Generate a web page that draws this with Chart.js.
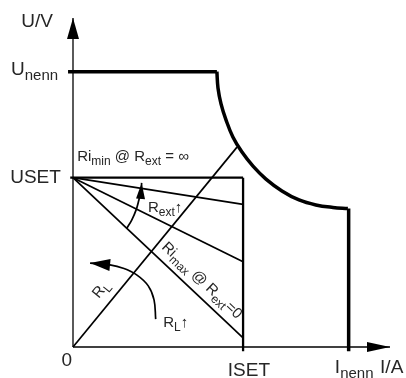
<!DOCTYPE html>
<html>
<head>
<meta charset="utf-8">
<script src="https://cdn.jsdelivr.net/npm/chart.js@4.4.1/dist/chart.umd.min.js"></script>
<style>
html, body { margin: 0; padding: 0; background: #fff; }
</style>
</head>
<body>
<canvas id="myChart" width="406" height="378"></canvas>
<script>
// axis ranges (I in A, U in V)
var I_MAX = 11.5, U_MAX = 11.95;
var U_NENN = 10, U_SET = 6.15;
var I_SET = 6.17, I_NENN = 10;

// power limit curve
var curveI = [5.22, 5.26, 5.37, 5.55, 5.80, 6.13, 6.53, 7.00, 7.58, 8.20, 8.81, 9.43, 9.97];
var curveU = [10, 9.41, 8.83, 8.25, 7.63, 7.08, 6.57, 6.10, 5.67, 5.34, 5.16, 5.07, 5.03];

// Ri lines from USET down to ISET
var riEndU = [5.18, 3.10, 0.33];

// RL load line, ends on the curve
var rlEndI = 5.95, rlEndU = 7.26;

// curved arrows
var rextArcI = [1.95, 2.13, 2.29, 2.39, 2.47, 2.49];
var rextArcU = [4.31, 4.61, 4.98, 5.34, 5.67, 5.96];
var rlArcI = [3.00, 2.94, 2.73, 2.31, 1.82, 1.34, 0.62];
var rlArcU = [1.01, 1.71, 2.22, 2.62, 2.86, 2.98, 3.05];

var FONT = '"Liberation Sans", Arial, sans-serif';

function pts(xs, ys) {
    var out = [];
    for (var i = 0; i < xs.length; i++) out.push({x: xs[i], y: ys[i]});
    return out;
}

function line(data, width, more) {
    var ds = {
        data: data,
        showLine: true,
        borderColor: '#000',
        backgroundColor: '#000',
        borderWidth: width,
        pointRadius: 0,
        tension: 0,
        clip: false
    };
    for (var k in more) ds[k] = more[k];
    return ds;
}

var datasets = [
    // axes
    line([{x: 0, y: 0}, {x: 0, y: U_MAX}], 1.3, {arrow: [21, 12]}),
    line([{x: 0, y: 0}, {x: I_MAX, y: 0}], 1.3, {arrow: [23, 10]}),
    // Unenn limit, curve, Inenn limit
    line([{x: -0.18, y: U_NENN}, {x: curveI[0], y: U_NENN}], 3.5, {borderCapStyle: 'butt'}),
    line(pts(curveI, curveU), 3.5, {tension: 0.4}),
    line([{x: I_NENN, y: curveU[curveU.length - 1]}, {x: I_NENN, y: -0.15}], 3.5),
    // USET / ISET box
    line([{x: -0.1, y: U_SET}, {x: I_SET, y: U_SET}], 2.3),
    line([{x: I_SET, y: U_SET}, {x: I_SET, y: -0.15}], 2.3),
    // RL line
    line([{x: 0, y: 0}, {x: rlEndI, y: rlEndU}], 1.7),
    // curved arrows
    line(pts(rextArcI, rextArcU), 1.7, {tension: 0.4, arrow: [16, 9]}),
    line(pts(rlArcI, rlArcU), 1.7, {tension: 0.4, arrow: [20, 12]})
];
riEndU.forEach(function (u) {
    datasets.push(line([{x: 0, y: U_SET}, {x: I_SET, y: u}], 1.7));
});

// text labels: parts are [text, isSubscript]
var labels = [
    {parts: [['U/V', 0]], x: -0.73, y: 11.62, align: 'right', size: 19},
    {parts: [['U', 0], ['nenn', 1]], x: -0.54, y: 9.88, align: 'right', size: 19},
    {parts: [['USET', 0]], x: -0.44, y: 5.97, align: 'right', size: 19},
    {parts: [['0', 0]], x: -0.23, y: -0.69, align: 'center', size: 19},
    {parts: [['ISET', 0]], x: 6.38, y: -1.05, align: 'center', size: 19},
    {parts: [['I', 0], ['nenn', 1]], x: 9.50, y: -0.94, align: 'left', size: 19},
    {parts: [['I/A', 0]], x: 11.14, y: -0.94, align: 'left', size: 19},
    {parts: [['Ri', 0], ['min', 1], [' @ R', 0], ['ext', 1], [' = \u221e', 0]], x: 0.15, y: 6.74, align: 'left', size: 15},
    {parts: [['R', 0], ['ext', 1], ['\u2191', 0]], x: 2.72, y: 4.91, align: 'left', size: 15},
    {parts: [['R', 0], ['L', 1], ['\u2191', 0]], x: 3.27, y: 0.72, align: 'left', size: 15},
    {parts: [['R', 0], ['L', 1]], x: 0.93, y: 1.74, align: 'left', size: 15,
        along: [0, 0, rlEndI, rlEndU]},
    {parts: [['Ri', 0], ['max', 1], [' @ R', 0], ['ext', 1], ['=0', 0]], x: 3.19, y: 3.60, align: 'left', size: 15,
        along: [0, U_SET, I_SET, riEndU[2]]}
];

function drawRich(ctx, parts, align, size) {
    var sub = Math.round(size * 0.78);
    var widths = parts.map(function (p) {
        ctx.font = (p[1] ? sub : size) + 'px ' + FONT;
        return ctx.measureText(p[0]).width;
    });
    var total = widths.reduce(function (a, b) { return a + b; }, 0);
    var x = align === 'right' ? -total : align === 'center' ? -total / 2 : 0;
    parts.forEach(function (p, i) {
        ctx.font = (p[1] ? sub : size) + 'px ' + FONT;
        ctx.fillText(p[0], x, p[1] ? size * 0.27 : 0);
        x += widths[i];
    });
}

var extras = {
    id: 'extras',
    afterDatasetsDraw: function (chart) {
        var ctx = chart.ctx;
        var xs = chart.scales.x, ys = chart.scales.y;
        ctx.save();
        ctx.fillStyle = '#000';
        chart.data.datasets.forEach(function (ds, i) {
            if (!ds.arrow) return;
            var d = ds.data, n = d.length;
            var x0 = xs.getPixelForValue(d[n - 2].x), y0 = ys.getPixelForValue(d[n - 2].y);
            var x1 = xs.getPixelForValue(d[n - 1].x), y1 = ys.getPixelForValue(d[n - 1].y);
            var a = Math.atan2(y1 - y0, x1 - x0);
            ctx.save();
            ctx.translate(x1, y1);
            ctx.rotate(a);
            ctx.beginPath();
            ctx.moveTo(0, 0);
            ctx.lineTo(-ds.arrow[0], ds.arrow[1] / 2);
            ctx.lineTo(-ds.arrow[0], -ds.arrow[1] / 2);
            ctx.closePath();
            ctx.fill();
            ctx.restore();
        });
        ctx.fillStyle = '#262626';
        ctx.textBaseline = 'alphabetic';
        ctx.textAlign = 'left';
        labels.forEach(function (l) {
            ctx.save();
            ctx.translate(xs.getPixelForValue(l.x), ys.getPixelForValue(l.y));
            if (l.along) {
                var a = Math.atan2(ys.getPixelForValue(l.along[3]) - ys.getPixelForValue(l.along[1]),
                    xs.getPixelForValue(l.along[2]) - xs.getPixelForValue(l.along[0]));
                ctx.rotate(a);
            }
            drawRich(ctx, l.parts, l.align, l.size);
            ctx.restore();
        });
        ctx.restore();
    }
};

var ctx = document.getElementById('myChart').getContext('2d');
var myChart = new Chart(ctx, {
    type: 'scatter',
    data: {datasets: datasets},
    options: {
        responsive: false,
        animation: false,
        layout: {padding: {left: 73, right: 16, top: 18, bottom: 31}},
        plugins: {legend: {display: false}, tooltip: {enabled: false}},
        scales: {
            x: {type: 'linear', min: 0, max: I_MAX, display: false},
            y: {type: 'linear', min: 0, max: U_MAX, display: false}
        }
    },
    plugins: [extras]
});
</script>
</body>
</html>
